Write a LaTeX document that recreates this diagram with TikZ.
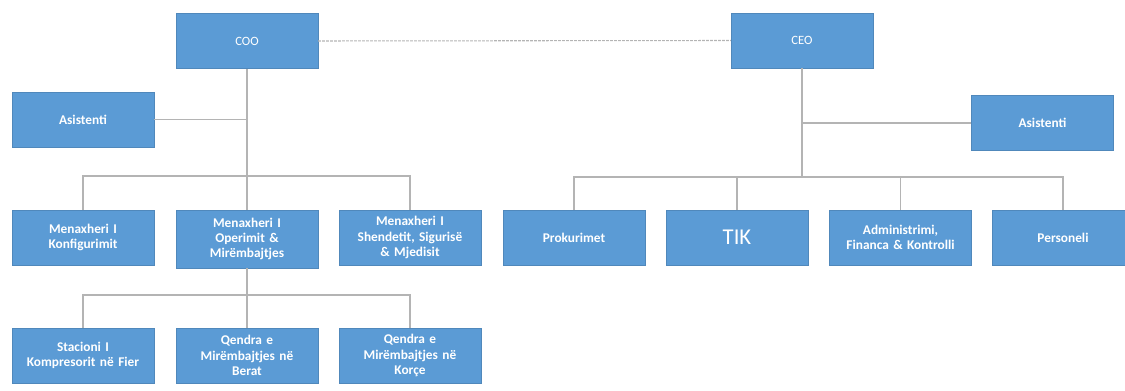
\documentclass[tikz,border=0pt]{standalone}
\usepackage{fontspec}
\setmainfont{Carlito}
\definecolor{boxblue}{HTML}{5B9BD5}
\definecolor{linegray}{HTML}{B4B4B4}

\begin{document}
\begin{tikzpicture}[x=0.75pt, y=-0.75pt,
        unit/.style={fill=boxblue, draw=boxblue!88!black, line width=0.3pt,
            minimum width=106.5pt, minimum height=41.5pt, inner sep=1pt,
            text width=104pt, align=center, text=white,
            font=\fontsize{10}{11.5}\selectfont\bfseries},
        link/.style={linegray, line width=0.8pt}]
        \useasboundingbox (0,0) rectangle (1125,391);
        \clip (0,0) rectangle (1125,391);

        % top and assistants
        \node[unit, font=\fontsize{9.5}{11}\selectfont] (coo) at (247,41) {COO};
        \node[unit, font=\fontsize{9.5}{11}\selectfont] (ceo) at (802,40.5) {CEO};
        \node[unit] (asL) at (83,119.5) {Asistenti};
        \node[unit] (asR) at (1042.5,123) {Asistenti};

        % COO side
        \node[unit] (mk) at (83,237.5) {Menaxheri I\\Konfigurimit};
        \node[unit, minimum height=43.5pt] (mo) at (247,239) {Menaxheri I\\Operimit \&\\Mirëmbajtjes};
        \node[unit] (ms) at (410,237.5) {Menaxheri I\\Shendetit, Sigurisë\\\& Mjedisit};
        \node[unit] (sf) at (83,355.5) {Stacioni I\\Kompresorit në Fier};
        \node[unit] (qb) at (247,355.5) {Qendra e\\Mirëmbajtjes në\\Berat};
        \node[unit] (qk) at (410,355.5) {Qendra e\\Mirëmbajtjes në\\Korçe};

        % CEO side
        \node[unit] (pr) at (574,237.5) {Prokurimet};
        \node[unit, font=\fontsize{17}{19}\selectfont] (tik) at (737,237.5) {TIK};
        \node[unit] (afk) at (900.5,237.5) {Administrimi,\\Financa \& Kontrolli};
        \node[unit] (pe) at (1063,237.5) {Personeli};

        \coordinate (busL) at (247,176);
        \coordinate (busO) at (247,295);
        \coordinate (busR) at (802,177);

        \draw[link, dashed, dash pattern=on 2pt off 1pt] (coo.east) -- (ceo.west);

        \draw[link] (coo.south) -- (busL);
        \draw[link] (asL.east) -- (asL.east -| coo.south);
        \draw[link] (mk.north) |- (busL) -| (ms.north);
        \draw[link] (busL) -- (mo.north);
        \draw[link] (mo.south) -- (busO);
        \draw[link] (sf.north) |- (busO) -| (qk.north);
        \draw[link] (busO) -- (qb.north);

        \draw[link] (ceo.south) -- (busR);
        \draw[link] (asR.west) -- (asR.west -| ceo.south);
        \draw[link] (pr.north) |- (busR) -| (pe.north);
        \draw[link] (tik.north) -- (tik.north |- busR);
        \draw[link] (afk.north) -- (afk.north |- busR);
    \end{tikzpicture}
\end{document}
